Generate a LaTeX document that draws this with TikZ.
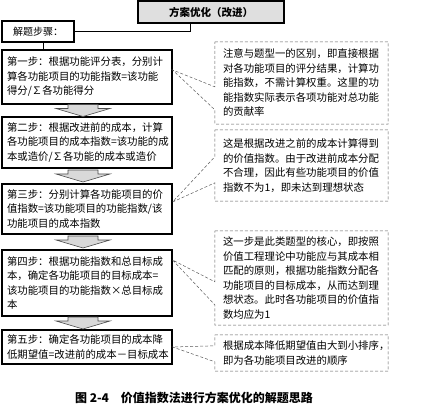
\documentclass[tikz,border=0pt]{standalone}
\usepackage{fontspec}
\setmainfont{Noto Sans CJK SC}
\usepackage{xcolor}
\usepackage{tikz}
\usetikzlibrary{calc}
\definecolor{noteline}{RGB}{90,90,90}

\begin{document}
\begin{tikzpicture}[x=1pt, y=-1pt,
  stepbox/.style={draw, line width=1.1pt, text width=160pt, inner xsep=5pt,
              align=left, font=\fontsize{10.4}{14.5}\selectfont},
  notebox/.style={text width=157pt, inner xsep=8pt, align=left,
              font=\fontsize{10.4}{14.5}\selectfont},
  callout/.style={draw=noteline, line width=0.5pt, dash pattern=on 3pt off 2pt},
  link/.style={line width=0.6pt},
  blockarrow/.pic={\draw[fill=gray!30, draw=gray!60!black, line width=0.6pt]
      (-15,-6) -- (15,-6) -- (15,-2) -- (27,-2) -- (0,6) -- (-27,-2) -- (-15,-2) -- cycle;},
]
  \useasboundingbox (0,0) rectangle (444,406);

  % Heading
  \node[draw, line width=1.2pt, fill=gray!25, minimum width=146pt, minimum height=22pt,
        font=\bfseries\fontsize{10.5}{12}\selectfont] (plan) at (211,12) {方案优化（改进）};
  \node[draw, line width=1.1pt, minimum width=72pt, minimum height=21pt,
        font=\fontsize{10}{12}\selectfont] (key) at (38,31.5) {解题步骤：};
  \draw[link] (key.east) -| ([xshift=-21pt]plan.south);

  % Steps
  \node[stepbox, minimum height=54pt] (s1) at (87,77)
    {第一步：根据功能评分表，分别计\\算各功能项目的功能指数=该功能\\得分/∑各功能得分};
  \node[stepbox, minimum height=51pt] (s2) at (87,142.5)
    {第二步：根据改进前的成本，计算\\各功能项目的成本指数=该功能的成\\本或造价/∑各功能的成本或造价};
  \node[stepbox, minimum height=50pt] (s3) at (87,209)
    {第三步：分别计算各功能项目的价\\值指数=该功能项目的功能指数/该\\功能项目的成本指数};
  \node[stepbox, minimum height=66pt] (s4) at (87,283)
    {第四步：根据功能指数和总目标成\\本，确定各功能项目的目标成本=\\该功能项目的功能指数×总目标成\\本};
  \node[stepbox, minimum height=34pt] (s5) at (87,347)
    {第五步：确定各功能项目的成本降\\低期望值=改进前的成本－目标成本};
  \draw[link] (key.south -| 43,0) -- (s1.north -| 43,0);

  % Arrows between steps
  \path ($(s1.south)!0.5!(s2.north)+(-4,0)$) pic {blockarrow};
  \path ($(s2.south)!0.5!(s3.north)+(-4,0)$) pic {blockarrow};
  \path ($(s3.south)!0.5!(s4.north)+(-4,0)$) pic {blockarrow};
  \path ($(s4.south)!0.5!(s5.north)+(-4,0)$) pic {blockarrow};

  % Notes
  \node[notebox, minimum height=82pt] (n1) at (301.5,83)
    {注意与题型一的区别，即直接根据\\对各功能项目的评分结果，计算功\\能指数，不需计算权重。这里的功\\能指数实际表示各项功能对总功能\\的贡献率};
  \node[notebox, minimum height=71pt] (n2) at (301.5,165.5)
    {这是根据改进之前的成本计算得到\\的价值指数。由于改进前成本分配\\不合理，因此有些功能项目的价值\\指数不为1，即未达到理想状态};
  \node[notebox, minimum height=94pt] (n3) at (301.5,278)
    {这一步是此类题型的核心，即按照\\价值工程理论中功能应与其成本相\\匹配的原则，根据功能指数分配各\\功能项目的目标成本，从而达到理\\想状态。此时各功能项目的价值指\\数均应为1};
  \node[notebox, minimum height=36pt] (n4) at (301.5,353)
    {根据成本降低期望值由大到小排序，\\即为各功能项目改进的顺序};

  % Callout outlines
  \draw[callout] (n1.north west) -- (n1.north east) -- (n1.south east) -- (n1.south west)
    -- ([yshift=-68pt]n1.north west) -- ([yshift=7pt]s1.east) -- ([yshift=-45pt]n1.north west) -- cycle;
  \draw[callout] (n2.north west) -- (n2.north east) -- (n2.south east) -- (n2.south west)
    -- ([yshift=-53pt]n2.north west) -- ([yshift=7pt]s3.east) -- ([yshift=-27pt]n2.north west) -- cycle;
  \draw[callout] (n3.north west) -- (n3.north east) -- (n3.south east) -- (n3.south west)
    -- ([yshift=-74pt]n3.north west) -- ([yshift=23pt]s4.east) -- ([yshift=-51pt]n3.north west) -- cycle;
  \draw[callout] (n4.north west) -- (n4.north east) -- (n4.south east) -- (n4.south west)
    -- ([yshift=-27pt]n4.north west) -- (s5.east) -- ([yshift=-11pt]n4.north west) -- cycle;

  % Caption
  \node[font=\bfseries\fontsize{12}{14}\selectfont] (caption) at (194,398)
    {图 2-4\quad 价值指数法进行方案优化的解题思路};
\end{tikzpicture}
\end{document}
